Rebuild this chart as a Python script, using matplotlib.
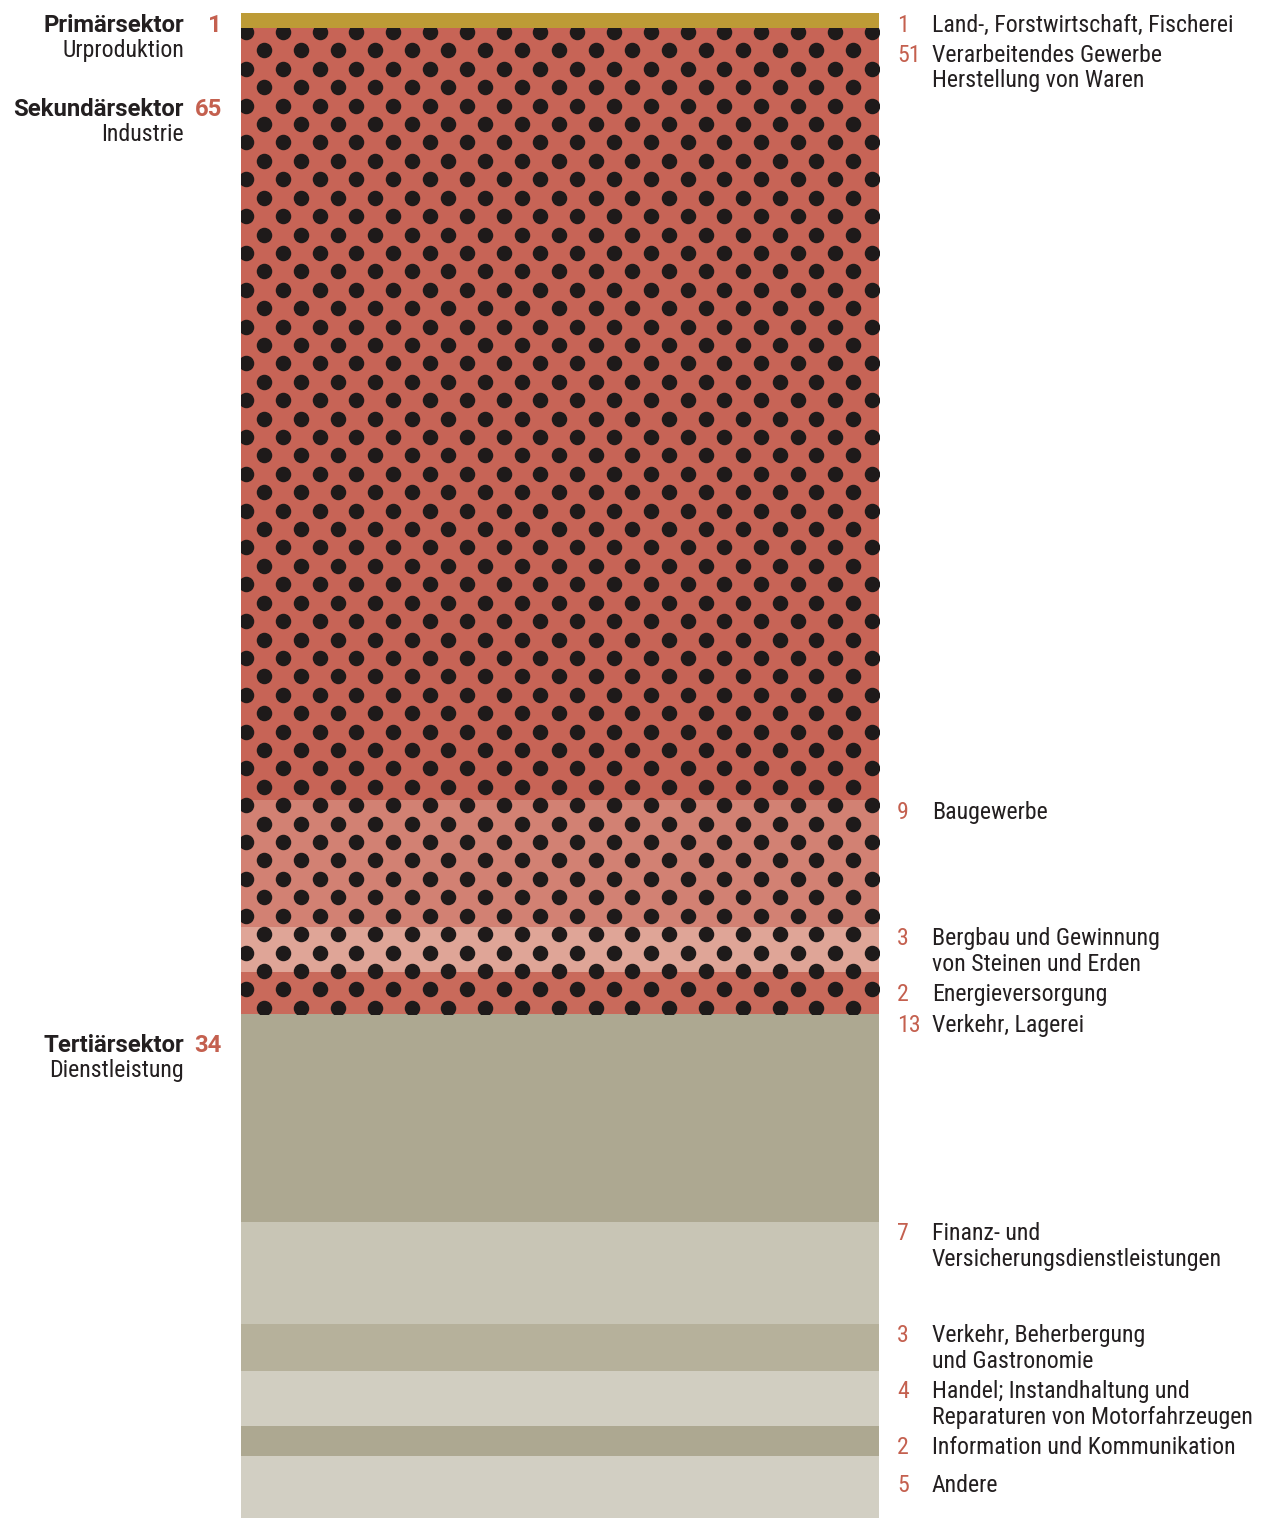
import numpy as np
import matplotlib
matplotlib.use("Agg")
import matplotlib.pyplot as plt
from matplotlib.patches import Rectangle
from matplotlib import font_manager as fm

# ---------------- data ----------------
sectors = ["Primärsektor", "Sekundärsektor", "Tertiärsektor"]
sector_subtitles = ["Urproduktion", "Industrie", "Dienstleistung"]
sector_labels = ["1", "65", "34"]

branches = [
    "Land-, Forstwirtschaft, Fischerei",
    "Verarbeitendes Gewerbe\nHerstellung von Waren",
    "Baugewerbe",
    "Bergbau und Gewinnung\nvon Steinen und Erden",
    "Energieversorgung",
    "Verkehr, Lagerei",
    "Finanz- und\nVersicherungsdienstleistungen",
    "Verkehr, Beherbergung\nund Gastronomie",
    "Handel; Instandhaltung und\nReparaturen von Motorfahrzeugen",
    "Information und Kommunikation",
    "Andere",
]
branch_values = [1.0, 51.3, 8.4, 3.0, 2.8, 13.8, 6.8, 3.1, 3.7, 2.0, 4.1]
branch_labels = ["1", "51", "9", "3", "2", "13", "7", "3", "4", "2", "5"]
branch_sector = [0, 1, 1, 1, 1, 2, 2, 2, 2, 2, 2]

# ---------------- style ----------------
colors = ["#BD9B36", "#C76456", "#D28173", "#DFA597", "#C96A5B",
          "#ADA891", "#C8C5B5", "#B6B19B", "#D1CEC1", "#ADA891", "#D2CFC3"]
dotted_sector = 1
DOT_COLOR = "#1E1A1A"
NUM_COLOR = "#C4604F"
TXT_COLOR = "#231F20"


def find_condensed():
    pref = ["Roboto Condensed", "Liberation Sans Narrow", "Open Sans Condensed",
            "Noto Sans Condensed", "DejaVu Sans Condensed"]
    reg = {}
    for f in fm.fontManager.ttflist:
        n = f.name
        st = f.stretch
        key = n
        is_cond = ("Narrow" in n or "Condensed" in n or
                   (isinstance(st, str) and "condensed" in st) or
                   (isinstance(st, int) and st < 500))
        if not is_cond:
            continue
        if "DejaVu" in n and "Sans" in n and "Mono" not in n:
            key = "DejaVu Sans Condensed"
        if "Oblique" in f.fname or "Italic" in f.fname:
            continue
        w = f.weight if isinstance(f.weight, int) else (700 if "bold" in str(f.weight) else 400)
        if 350 <= w <= 450:
            reg.setdefault(key, f.fname)
    for p in pref:
        for k in reg:
            if k.startswith(p):
                return reg[k]
    return None


reg_path = find_condensed()
if reg_path:
    FP_REG = fm.FontProperties(fname=reg_path)
    FS = 17.2
else:
    FP_REG = fm.FontProperties(family="DejaVu Sans", stretch="condensed")
    FS = 14
try:
    bold_path = fm.findfont(fm.FontProperties(family="Roboto", weight="bold", stretch="normal"),
                            fallback_to_default=False)
    FP_BOLD = fm.FontProperties(fname=bold_path)
    FS_BOLD = 17.2
except Exception:
    FP_BOLD = fm.FontProperties(family="DejaVu Sans", weight="bold", stretch="condensed")
    FS_BOLD = 15

W, H = 1262, 1518
BAR_L, BAR_R, BAR_T = 241, 879, 13

fig = plt.figure(figsize=(W / 100, H / 100), dpi=100)
fig.patch.set_facecolor("white")
ax = fig.add_axes([BAR_L / W, 0, (BAR_R - BAR_L) / W, (H - BAR_T) / H])
total = sum(branch_values)
ax.set_xlim(0, 1)
ax.set_ylim(total, 0)
ax.axis("off")

bottoms = np.concatenate([[0], np.cumsum(branch_values)[:-1]])
ax.bar(0.5, branch_values, bottom=bottoms, width=1, color=colors, linewidth=0)

# dotted texture over the secondary sector
vals = np.array(branch_values)
sec = np.array(branch_sector)
d_top = vals[sec < dotted_sector].sum()
d_h = vals[sec == dotted_sector].sum()
clip = Rectangle((0, d_top), 1, d_h, transform=ax.transData, facecolor="none", edgecolor="none")
ax.add_patch(clip)

ROW0, DY, DX, X0 = 32.0, 18.41, 36.8, 246.0
xs, ys = [], []
for k in range(-2, 90):
    ypx = ROW0 + k * DY
    xstart = X0 + (DX / 2 if k % 2 else 0)
    for j in range(-1, 20):
        xs.append((xstart + j * DX - BAR_L) / (BAR_R - BAR_L))
        ys.append(1 - (ypx - BAR_T) / (H - BAR_T))
sc = ax.scatter(xs, ys, s=(15.5 * 72 / 100) ** 2, color=DOT_COLOR, linewidths=0,
                transform=ax.transAxes, zorder=3)
sc.set_clip_path(clip)


def ypix(v):
    return H - ax.transData.transform((0, v))[1]


def ftext(x, y, s, bold=False, **kw):
    fp = (FP_BOLD if bold else FP_REG).copy()
    fp.set_size(FS_BOLD if bold else FS)
    fig.text(x / W, 1 - y / H, s, va="baseline", fontproperties=fp, **kw)


# right labels
right_gap = [30] * 10 + [38]
prev = -1e9
for i, name in enumerate(branches):
    base = max(ypix(bottoms[i]) + 18.5, prev + right_gap[i])
    ftext(897, base, branch_labels[i], ha="left", color=NUM_COLOR)
    lines = name.split("\n")
    for j, ln in enumerate(lines):
        ftext(932, base + 26 * j, ln, ha="left", color=TXT_COLOR)
    prev = base + 26 * (len(lines) - 1)

# left sector labels
left_nudge = [0, 0, 19]
prev = -1e9
for s, name in enumerate(sectors):
    first = branch_sector.index(s)
    base = max(ypix(bottoms[first]) + 19 + left_nudge[s], prev + 58)
    ftext(184, base, name, bold=True, ha="right", color=TXT_COLOR)
    ftext(222, base, sector_labels[s], bold=True, ha="right", color=NUM_COLOR)
    ftext(184, base + 25.5, sector_subtitles[s], ha="right", color=TXT_COLOR)
    prev = base + 25.5

fig.savefig("out.png", dpi=100, facecolor="white")
